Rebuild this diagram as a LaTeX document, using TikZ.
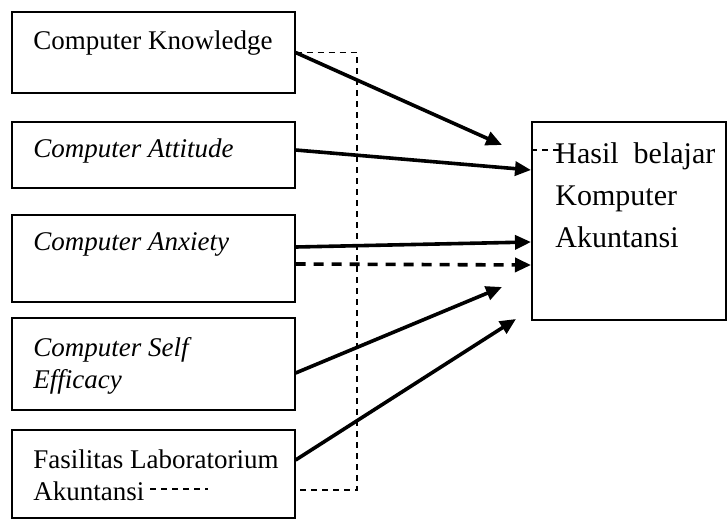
\documentclass[tikz,border=0pt]{standalone}
\usepackage{fontspec}
\setmainfont{Liberation Serif}
\usetikzlibrary{arrows.meta}
\begin{document}
\begin{tikzpicture}[x=0.5pt,y=-0.5pt]
			\tikzstyle{every node}=[inner sep=0pt, font=\fontsize{13.5}{16}\selectfont];
			\tikzstyle{box}=[draw, line width=0.6pt, shape=rectangle, minimum width=141.5pt];
			\tikzstyle{txt}=[anchor=base west];
			\tikzstyle{bigtxt}=[anchor=base west, font=\fontsize{15}{18}\selectfont];
			\tikzstyle{link}=[line width=1.8pt, -{Triangle[length=8pt,width=7pt]}];
			\tikzstyle{thinline}=[line width=0.6pt, dash pattern=on 3pt off 2.5pt];
			\useasboundingbox (0,0) rectangle (727,520);
			\node [box, minimum height=40.5pt] (know) at (153.5,52.5) {};
			\node [box, minimum height=33pt] (att) at (153.5,155) {};
			\node [box, minimum height=43.5pt] (anx) at (153.5,258.5) {};
			\node [box, minimum height=46pt] (eff) at (153.5,364) {};
			\node [box, minimum height=44pt] (fas) at (153.5,474) {};
			\node [box, minimum width=97pt, minimum height=99pt] (hasil) at (629,221) {};
			\node [txt] (knowtxt) at (33,49) {Computer Knowledge};
			\node [txt] (atttxt) at (33,157) {\itshape Computer Attitude};
			\node [txt] (anxtxt) at (33,250) {\itshape Computer Anxiety};
			\node [txt] (efftxta) at (33,356) {\itshape Computer Self};
			\node [txt] (efftxtb) at (33,388) {\itshape Efficacy};
			\node [txt] (fastxta) at (33,468) {Fasilitas Laboratorium};
			\node [txt] (fastxtb) at (33,500) {Akuntansi};
			\node [bigtxt] (hasiltxta) at (555,163) {Hasil \ belajar};
			\node [bigtxt] (hasiltxtb) at (555,205) {Komputer};
			\node [bigtxt] (hasiltxtc) at (555,247) {Akuntansi};
			\coordinate (t1) at (502,145);
			\coordinate (t2) at (531,170);
			\coordinate (t3) at (531,242);
			\coordinate (t4) at (531,265);
			\coordinate (t5) at (502,287);
			\coordinate (t6) at (516,319);
			\coordinate (c1) at (357,52.5);
			\coordinate (c2) at (357,490);
			\coordinate (s1) at (150,489);
			\coordinate (s2) at (208,489);
			\draw [link] (know.east) -- (t1);
			\draw [link] ([yshift=2.5pt]att.east) -- (t2);
			\draw [link] ([yshift=5.75pt]anx.east) -- (t3);
			\draw [link, dash pattern=on 5pt off 4pt] ([yshift=-2.75pt]anx.east) -- (t4);
			\draw [link] ([yshift=-4.5pt]eff.east) -- (t5);
			\draw [link] ([yshift=7pt]fas.east) -- (t6);
			\draw [thinline] (know.east) -- (c1) -- (c2) -- ([yshift=-8pt]fas.east);
			\draw [thinline] (s1) -- (s2);
			\draw [thinline] ([yshift=35.5pt]hasil.west) -- ++(31,0);
		\end{tikzpicture}
\end{document}
